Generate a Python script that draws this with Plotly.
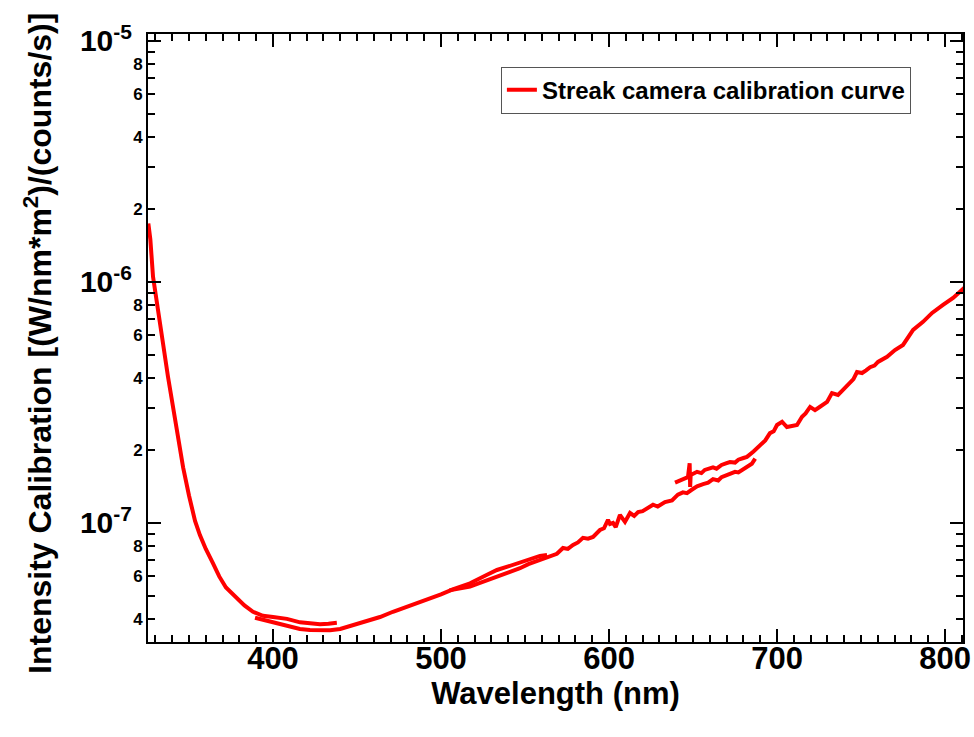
import plotly.graph_objects as go

# streak camera calibration, four overlapping spectral windows
seg1_wl = [325.8, 327.0, 328.6, 330.0, 331.6, 334.5, 337.5, 340.5, 343.5, 346.5, 350.0, 353.6, 356.5,
           360.0, 364.3, 368.0, 372.0, 378.6, 383.0, 388.1, 394.0, 400.0, 408.3, 416.1, 422.0,
           428.0, 433.0, 438.0]
seg1_val = [1.75e-6, 1.5e-6, 1.05e-6, 8.9e-7, 7.65e-7, 5.58e-7, 4.04e-7, 3.03e-7, 2.2e-7, 1.7e-7, 1.3e-7, 1.02e-7, 8.9e-8,
            7.8e-8, 6.8e-8, 6.0e-8, 5.4e-8, 4.89e-8, 4.55e-8, 4.28e-8, 4.12e-8, 4.07e-8, 4.0e-8, 3.87e-8, 3.82e-8,
            3.8e-8, 3.82e-8, 3.85e-8]

seg2_wl = [389.3, 394.0, 400.0, 408.0, 416.0, 422.0, 428.0, 434.0, 440.0, 445.0, 451.8, 457.0, 463.7, 471.4,
           480.0, 491.7, 500.0, 507.0, 517.3, 527.4, 533.3, 540.0, 547.0, 553.0, 558.9, 563.1]
seg2_val = [4.04e-8, 3.96e-8, 3.88e-8, 3.75e-8, 3.63e-8, 3.6e-8, 3.58e-8, 3.59e-8, 3.63e-8, 3.72e-8, 3.85e-8, 3.95e-8,
            4.07e-8, 4.28e-8, 4.5e-8, 4.79e-8, 5.05e-8, 5.3e-8, 5.62e-8, 6.1e-8, 6.38e-8, 6.6e-8, 6.84e-8, 7.08e-8,
            7.3e-8, 7.36e-8]

seg3_wl = [505.0, 511.3, 517.3, 522.0, 527.4, 533.3, 540.0, 547.0, 552.0, 558.9, 564.9, 569.0, 572.6, 575.5,
           578.6, 581.5, 584.5, 587.5, 590.5, 594.6, 597.0, 599.4, 600.6, 602.4, 604.0, 606.5, 609.5,
           612.5, 615.0, 617.3, 620.0, 622.6, 626.2, 629.0, 633.3, 637.5, 641.0, 644.0, 646.4, 649.0,
           652.4, 656.0, 659.0, 661.9, 665.0, 667.0, 670.0, 672.0, 675.0, 677.0, 680.0, 682.1, 685.0, 687.0]
seg3_val = [5.25e-8, 5.37e-8, 5.45e-8, 5.6e-8, 5.78e-8, 5.97e-8, 6.2e-8, 6.49e-8, 6.75e-8, 7.03e-8, 7.23e-8, 7.45e-8,
            7.87e-8, 7.8e-8, 8.1e-8, 8.3e-8, 8.67e-8, 8.6e-8, 8.75e-8, 9.35e-8, 9.5e-8, 1.03e-7, 9.9e-8, 1.0e-7,
            9.6e-8, 1.08e-7, 1.01e-7, 1.1e-7, 1.07e-7, 1.11e-7, 1.12e-7, 1.15e-7, 1.19e-7, 1.17e-7, 1.22e-7, 1.24e-7,
            1.31e-7, 1.34e-7, 1.33e-7, 1.37e-7, 1.42e-7, 1.45e-7, 1.47e-7, 1.52e-7, 1.5e-7, 1.55e-7, 1.58e-7,
            1.6e-7, 1.63e-7, 1.62e-7, 1.67e-7, 1.7e-7, 1.76e-7, 1.85e-7]

seg4_wl = [639.3, 644.0, 647.0, 648.0, 648.3, 648.6, 652.4, 655.0, 657.0, 660.0, 661.9, 664.0, 667.0,
           670.0, 672.0, 675.0, 677.0, 680.0, 682.1, 686.0, 689.9, 693.0, 695.8, 698.0, 700.0, 703.0,
           705.9, 708.0, 711.9, 714.9, 717.0, 719.7, 722.6, 724.5, 726.8, 729.8, 732.7, 736.3, 739.0,
           743.4, 745.5, 747.6, 750.6, 753.0, 755.4, 758.0, 760.1, 765.5, 770.2, 775.0, 778.0, 781.0,
           786.9, 792.3, 798.8, 804.8, 812.0]
seg4_val = [1.47e-7, 1.51e-7, 1.55e-7, 1.77e-7, 1.41e-7, 1.58e-7, 1.63e-7, 1.61e-7, 1.66e-7, 1.69e-7, 1.7e-7, 1.68e-7,
            1.74e-7, 1.77e-7, 1.79e-7, 1.78e-7, 1.83e-7, 1.86e-7, 1.88e-7, 1.98e-7, 2.1e-7, 2.2e-7, 2.36e-7, 2.4e-7,
            2.55e-7, 2.63e-7, 2.5e-7, 2.52e-7, 2.55e-7, 2.76e-7, 2.85e-7, 3.03e-7, 2.94e-7, 3.0e-7, 3.09e-7, 3.18e-7,
            3.46e-7, 3.4e-7, 3.55e-7, 3.81e-7, 3.95e-7, 4.23e-7, 4.19e-7, 4.3e-7, 4.43e-7, 4.5e-7, 4.66e-7, 4.89e-7,
            5.22e-7, 5.48e-7, 5.85e-7, 6.33e-7, 6.83e-7, 7.44e-7, 8.03e-7, 8.59e-7, 9.53e-7]

segments = [(seg1_wl, seg1_val), (seg2_wl, seg2_val), (seg3_wl, seg3_val), (seg4_wl, seg4_val)]

minor_vals = [m * 10.0 ** e for e in (-8, -7, -6) for m in (2, 3, 4, 5, 6, 7, 8, 9)]
minor_text = [("" if m % 2 else str(m)) for e in (-8, -7, -6) for m in (2, 3, 4, 5, 6, 7, 8, 9)]
decade_vals = [1e-7, 1e-6, 1e-5]
decade_text = ["10<sup>-7</sup>", "10<sup>-6</sup>", "10<sup>-5</sup>"]

font = dict(family="Liberation Sans, Arial, Helvetica", color="black", weight="bold")
yrange = [-7.494, -4.971]

fig = go.Figure()
for i, (wl, val) in enumerate(segments):
    fig.add_trace(go.Scatter(x=wl, y=val, mode="lines", line=dict(color="#ff0000", width=4),
                             name="Streak camera calibration curve", legendgroup="cal",
                             showlegend=(i == 0)))
# invisible trace so the decade axis gets drawn
fig.add_trace(go.Scatter(x=[500], y=[1e-6], yaxis="y2", mode="markers",
                         marker=dict(opacity=0), showlegend=False, hoverinfo="skip"))

fig.update_layout(
    width=974, height=737,
    margin=dict(l=148, r=11, t=34, b=95),
    plot_bgcolor="white", paper_bgcolor="white",
    font=font,
    xaxis=dict(range=[325.6, 810.7], showgrid=False, zeroline=False, automargin=False,
               showline=True, linecolor="black", linewidth=2, mirror="ticks",
               ticks="inside", ticklen=13, tickwidth=2, tickcolor="black",
               tickvals=[400, 500, 600, 700, 800], tickfont=dict(size=31, **font),
               ticklabelstandoff=-12,
               minor=dict(dtick=10, tick0=0, ticklen=7, tickwidth=2, tickcolor="black", ticks="inside"),
               title=dict(text="Wavelength (nm)", font=dict(size=31, **font), standoff=0)),
    yaxis=dict(type="log", range=yrange, showgrid=False, zeroline=False, automargin=False,
               showline=True, linecolor="black", linewidth=2, mirror="ticks",
               ticks="inside", ticklen=7, tickwidth=2, tickcolor="black",
               tickmode="array", tickvals=minor_vals, ticktext=minor_text,
               tickfont=dict(size=17, **font)),
    yaxis2=dict(type="log", range=yrange, overlaying="y", side="left", showgrid=False,
                zeroline=False, mirror="ticks", showline=True, linecolor="black", linewidth=2,
                automargin=False, ticks="inside", ticklen=13, tickwidth=2, tickcolor="black",
                tickmode="array", tickvals=decade_vals, ticktext=decade_text,
                tickfont=dict(size=30, **font), ticklabelstandoff=8),
    legend=dict(x=0.433, y=0.9465, xanchor="left", yanchor="top",
                bordercolor="#555555", borderwidth=1, bgcolor="white",
                font=dict(size=24, **font), itemwidth=30, tracegroupgap=0),
    showlegend=True,
)

fig.add_annotation(text="Intensity Calibration [(W/nm*m<sup>2</sup>)/(counts/s)]",
                   xref="paper", yref="paper", x=-0.135, y=0.4918,
                   xanchor="center", yanchor="middle", textangle=-90, showarrow=False,
                   font=dict(size=32, **font))

fig.write_html("out.html", config={"displayModeBar": False},
               post_script="document.body.style.margin='0px';")
